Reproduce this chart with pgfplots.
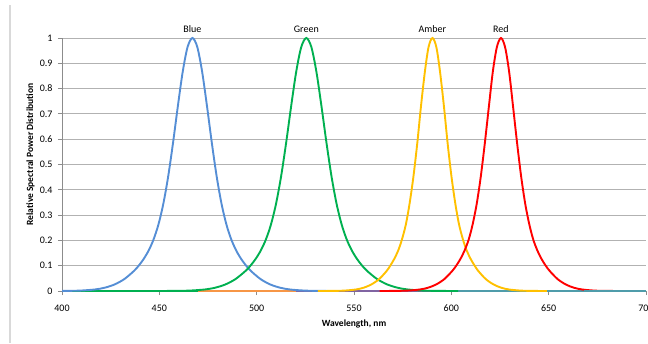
\documentclass[border=0pt]{standalone}
\usepackage{pgfplots}
\pgfplotsset{compat=1.18}
\usepackage{fontspec}
\setmainfont{Carlito}
\definecolor{cblue}{RGB}{85,142,213}
\definecolor{cgreen}{RGB}{0,176,80}
\definecolor{camber}{RGB}{255,192,0}
\definecolor{cred}{RGB}{255,0,0}
\definecolor{corange}{RGB}{247,150,70}
\definecolor{cpurple}{RGB}{128,100,162}
\definecolor{cteal}{RGB}{79,156,170}
\definecolor{gridgray}{RGB}{178,178,178}
\definecolor{axisgray}{RGB}{140,140,140}
\definecolor{framegray}{RGB}{217,217,217}
\begin{document}
\begin{tikzpicture}[x=1pt,y=1pt]
\useasboundingbox (0,0) rectangle (648,343);
\clip (0,0) rectangle (648,343);
\draw[color=framegray, line width=1.6pt] (10,0) -- (10,338);
\begin{axis}[
  at={(62pt,52pt)}, anchor=south west,
  scale only axis, width=584pt, height=253pt,
  xmin=400, xmax=700, ymin=0, ymax=1,
  clip=false,
  xtick={400,450,500,550,600,650,700},
  ytick={0,0.1,0.2,0.3,0.4,0.5,0.6,0.7,0.8,0.9,1},
  yticklabels={0,0.1,0.2,0.3,0.4,0.5,0.6,0.7,0.8,0.9,1},
  /pgf/number format/assume math mode=true,
  ymajorgrids,
  grid style={color=gridgray, line width=0.9pt},
  axis x line=bottom, axis y line=left,
  axis line style={-, color=axisgray, line width=0.9pt},
  tick align=outside, major tick length=4pt,
  tick style={color=axisgray, line width=0.8pt},
  xticklabel style={font=\fontsize{10}{12}\selectfont, yshift=-6pt},
  yticklabel style={font=\fontsize{10}{12}\selectfont, xshift=-2pt},
  xlabel={\textbf{Wavelength, nm}},
  xlabel style={at={(axis description cs:0.5,0)}, anchor=base, yshift=-35pt, font=\fontsize{9.5}{11}\selectfont},
  ylabel={\textbf{Relative Spectral Power Distribution}},
  ylabel style={at={(axis description cs:0,0.54)}, anchor=base, yshift=29pt, font=\fontsize{9.5}{11}\selectfont},
  every axis plot/.append style={line width=1.9pt, smooth},
]
% flat baseline series
\addplot[cgreen, sharp plot] coordinates {(400,0) (470,0)};
\addplot[corange, sharp plot] coordinates {(470,0) (520,0)};
\addplot[cpurple, sharp plot] coordinates {(520,0) (600,0)};
\addplot[cteal, sharp plot] coordinates {(600,0) (700,0)};
% Blue
\addplot[cblue] coordinates {
(400,0.0003) (402,0.0004) (409.5,0.0017) (417,0.0061) (422,0.0131) (427,0.0258)
(432,0.0470) (437,0.0795) (439.5,0.1010) (442,0.1271) (444.5,0.1599) (447,0.2029)
(449.5,0.2617) (452,0.3428) (454.5,0.4506) (457,0.5836) (459.5,0.7297) (462,0.8661)
(464.5,0.9642) (467,1) (469.5,0.9642) (472,0.8661) (474.5,0.7297) (477,0.5836)
(479.5,0.4506) (482,0.3428) (484.5,0.2617) (487,0.2029) (489.5,0.1599) (492,0.1271)
(494.5,0.1010) (497,0.0795) (502,0.0470) (507,0.0258) (512,0.0131) (517,0.0061)
(524.5,0.0017) (532,0.0004) (542,0.00004)};
% Green
\addplot[cgreen] coordinates {
(447.5,0.00004) (457.9,0.0004) (465.7,0.0017) (473.5,0.0061) (478.7,0.0131) (483.9,0.0258)
(489.1,0.0470) (494.3,0.0795) (496.9,0.1010) (499.5,0.1271) (502.1,0.1599) (504.7,0.2029)
(507.3,0.2617) (509.9,0.3428) (512.5,0.4506) (515.1,0.5836) (517.7,0.7297) (520.3,0.8661)
(522.9,0.9642) (525.5,1) (528.1,0.9642) (530.7,0.8661) (533.3,0.7297) (535.9,0.5836)
(538.5,0.4506) (541.1,0.3428) (543.7,0.2617) (546.3,0.2029) (548.9,0.1599) (551.5,0.1271)
(554.1,0.1010) (556.7,0.0795) (561.9,0.0470) (567.1,0.0258) (572.3,0.0131) (577.5,0.0061)
(585.3,0.0017) (593.1,0.0004) (603.5,0.00004)};
% Amber
\addplot[camber] coordinates {
(531.5,0.00004) (539.3,0.0004) (545.2,0.0017) (551.1,0.0061) (555.0,0.0131) (558.9,0.0258)
(562.9,0.0470) (566.8,0.0795) (568.7,0.1010) (570.7,0.1271) (572.7,0.1599) (574.6,0.2029)
(576.6,0.2617) (578.5,0.3428) (580.5,0.4506) (582.5,0.5836) (584.4,0.7297) (586.4,0.8661)
(588.3,0.9642) (590.3,1) (592.3,0.9642) (594.2,0.8661) (596.2,0.7297) (598.1,0.5836)
(600.1,0.4506) (602.1,0.3428) (604.0,0.2617) (606.0,0.2029) (607.9,0.1599) (609.9,0.1271)
(611.9,0.1010) (613.8,0.0795) (617.7,0.0470) (621.7,0.0258) (625.6,0.0131) (629.5,0.0061)
(635.4,0.0017) (641.3,0.0004) (649.1,0.00004)};
% Red
\addplot[cred] coordinates {
(563.1,0.00004) (571.4,0.0004) (577.7,0.0017) (583.9,0.0061) (588.1,0.0131) (592.2,0.0258)
(596.4,0.0470) (600.5,0.0795) (602.6,0.1010) (604.7,0.1271) (606.8,0.1599) (608.9,0.2029)
(610.9,0.2617) (613.0,0.3428) (615.1,0.4506) (617.2,0.5836) (619.3,0.7297) (621.3,0.8661)
(623.4,0.9642) (625.5,1) (627.6,0.9642) (629.7,0.8661) (631.7,0.7297) (633.8,0.5836)
(635.9,0.4506) (638.0,0.3428) (640.1,0.2617) (642.1,0.2029) (644.2,0.1599) (646.3,0.1271)
(648.4,0.1010) (650.5,0.0795) (654.6,0.0470) (658.8,0.0258) (662.9,0.0131) (667.1,0.0061)
(673.3,0.0017) (679.6,0.0004) (687.9,0.00004)};
\addplot[cteal, sharp plot] coordinates {(668,0) (700,0)};
\node[font=\fontsize{10}{12}\selectfont, anchor=base, inner sep=0pt, yshift=5.5pt] at (axis cs:467,1) {Blue};
\node[font=\fontsize{10}{12}\selectfont, anchor=base, inner sep=0pt, yshift=5.5pt] at (axis cs:525.5,1) {Green};
\node[font=\fontsize{10}{12}\selectfont, anchor=base, inner sep=0pt, yshift=5.5pt] at (axis cs:590.3,1) {Amber};
\node[font=\fontsize{10}{12}\selectfont, anchor=base, inner sep=0pt, yshift=5.5pt] at (axis cs:625.5,1) {Red};
\end{axis}
\end{tikzpicture}
\end{document}
